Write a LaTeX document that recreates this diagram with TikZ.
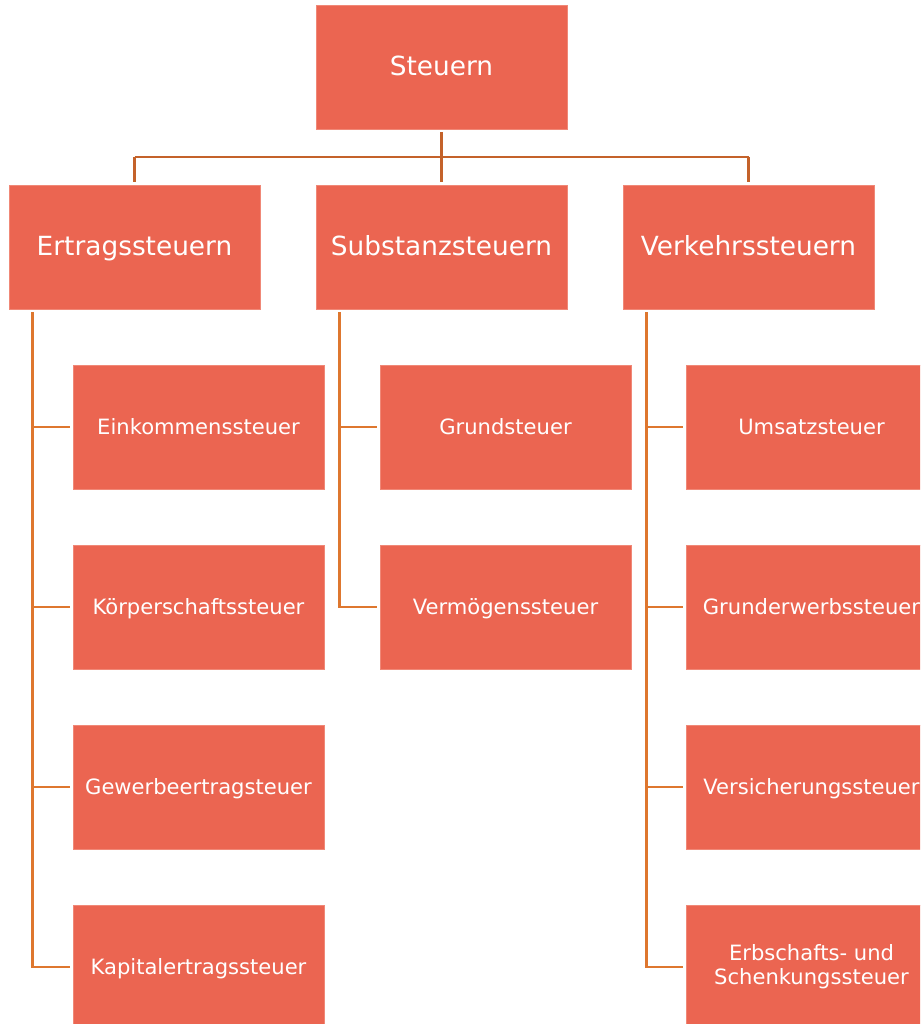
\documentclass[tikz,border=0pt]{standalone}
\usepackage{fontspec}
\setmainfont{DejaVu Sans}
\definecolor{boxfill}{HTML}{EB6551}
\definecolor{boxedge}{HTML}{F08877}
\definecolor{topline}{HTML}{C4622A}
\definecolor{sideline}{HTML}{DE772F}
\tikzset{
  boxbase/.style={rectangle, fill=boxfill, draw=boxedge, line width=0.4pt, minimum width=5.02cm, minimum height=2.48cm, inner sep=0pt, text=white},
  bigbox/.style={boxbase, font=\fontsize{15}{17}\selectfont, text height=0.92em, text depth=0pt},
  smallbox/.style={boxbase, font=\fontsize{12}{13.7}\selectfont, text height=0.88em, text depth=0pt},
  twolinebox/.style={boxbase, font=\fontsize{12}{13.7}\selectfont, align=center},
  topconn/.style={draw=topline, line width=1.6pt},
  sideconn/.style={draw=sideline, line width=1.6pt},
  gapend/.style={shorten >=0.06cm},
  gapstart/.style={shorten <=0.06cm}
}
\begin{document}
\begin{tikzpicture}[x=0.02cm,y=-0.02cm]
\clip (0,0) rectangle (920,1024);
\fill[white] (0,0) rectangle (920,1024);
% top level
\node[bigbox] (root) at (441.5,67) {Steuern};
\node[bigbox] (ert) at (134.5,247) {Ertragssteuern};
\node[bigbox] (sub) at (441.5,247) {Substanzsteuern};
\node[bigbox] (ver) at (748.5,247) {Verkehrssteuern};
% children
\node[smallbox] (e1) at (198.5,427) {Einkommenssteuer};
\node[smallbox] (e2) at (198.5,607) {Körperschaftssteuer};
\node[smallbox] (e3) at (198.5,787) {Gewerbeertragsteuer};
\node[smallbox] (e4) at (198.5,967) {Kapitalertragssteuer};
\node[smallbox] (s1) at (505.5,427) {Grundsteuer};
\node[smallbox] (s2) at (505.5,607) {Vermögenssteuer};
\node[smallbox] (v1) at (811.5,427) {Umsatzsteuer};
\node[smallbox] (v2) at (811.5,607) {Grunderwerbssteuer};
\node[smallbox] (v3) at (811.5,787) {Versicherungssteuer};
\node[twolinebox] (v4) at (811.5,967) {Erbschafts- und\\Schenkungssteuer};
% top connectors
\coordinate (bar) at (441.5,157);
\draw[topconn, gapstart] (root.south) -- (sub.north |- bar);
\draw[topconn] (ert.north |- bar) -- (ver.north |- bar);
\draw[topconn, gapend] (ert.north |- bar) -- (ert.north);
\draw[topconn, gapend] (sub.north |- bar) -- (sub.north);
\draw[topconn, gapend] (ver.north |- bar) -- (ver.north);
% side spines
\coordinate (espine) at ([xshift=0.48cm,yshift=-0.06cm]ert.south west);
\coordinate (sspine) at ([xshift=0.48cm,yshift=-0.06cm]sub.south west);
\coordinate (vspine) at ([xshift=0.48cm,yshift=-0.06cm]ver.south west);
\draw[sideconn, gapend] (espine) -- (espine |- e4.west) -- (e4.west);
\draw[sideconn, gapend] (espine |- e1.west) -- (e1.west);
\draw[sideconn, gapend] (espine |- e2.west) -- (e2.west);
\draw[sideconn, gapend] (espine |- e3.west) -- (e3.west);
\draw[sideconn, gapend] (sspine) -- (sspine |- s2.west) -- (s2.west);
\draw[sideconn, gapend] (sspine |- s1.west) -- (s1.west);
\draw[sideconn, gapend] (vspine) -- (vspine |- v4.west) -- (v4.west);
\draw[sideconn, gapend] (vspine |- v1.west) -- (v1.west);
\draw[sideconn, gapend] (vspine |- v2.west) -- (v2.west);
\draw[sideconn, gapend] (vspine |- v3.west) -- (v3.west);
\end{tikzpicture}
\end{document}
